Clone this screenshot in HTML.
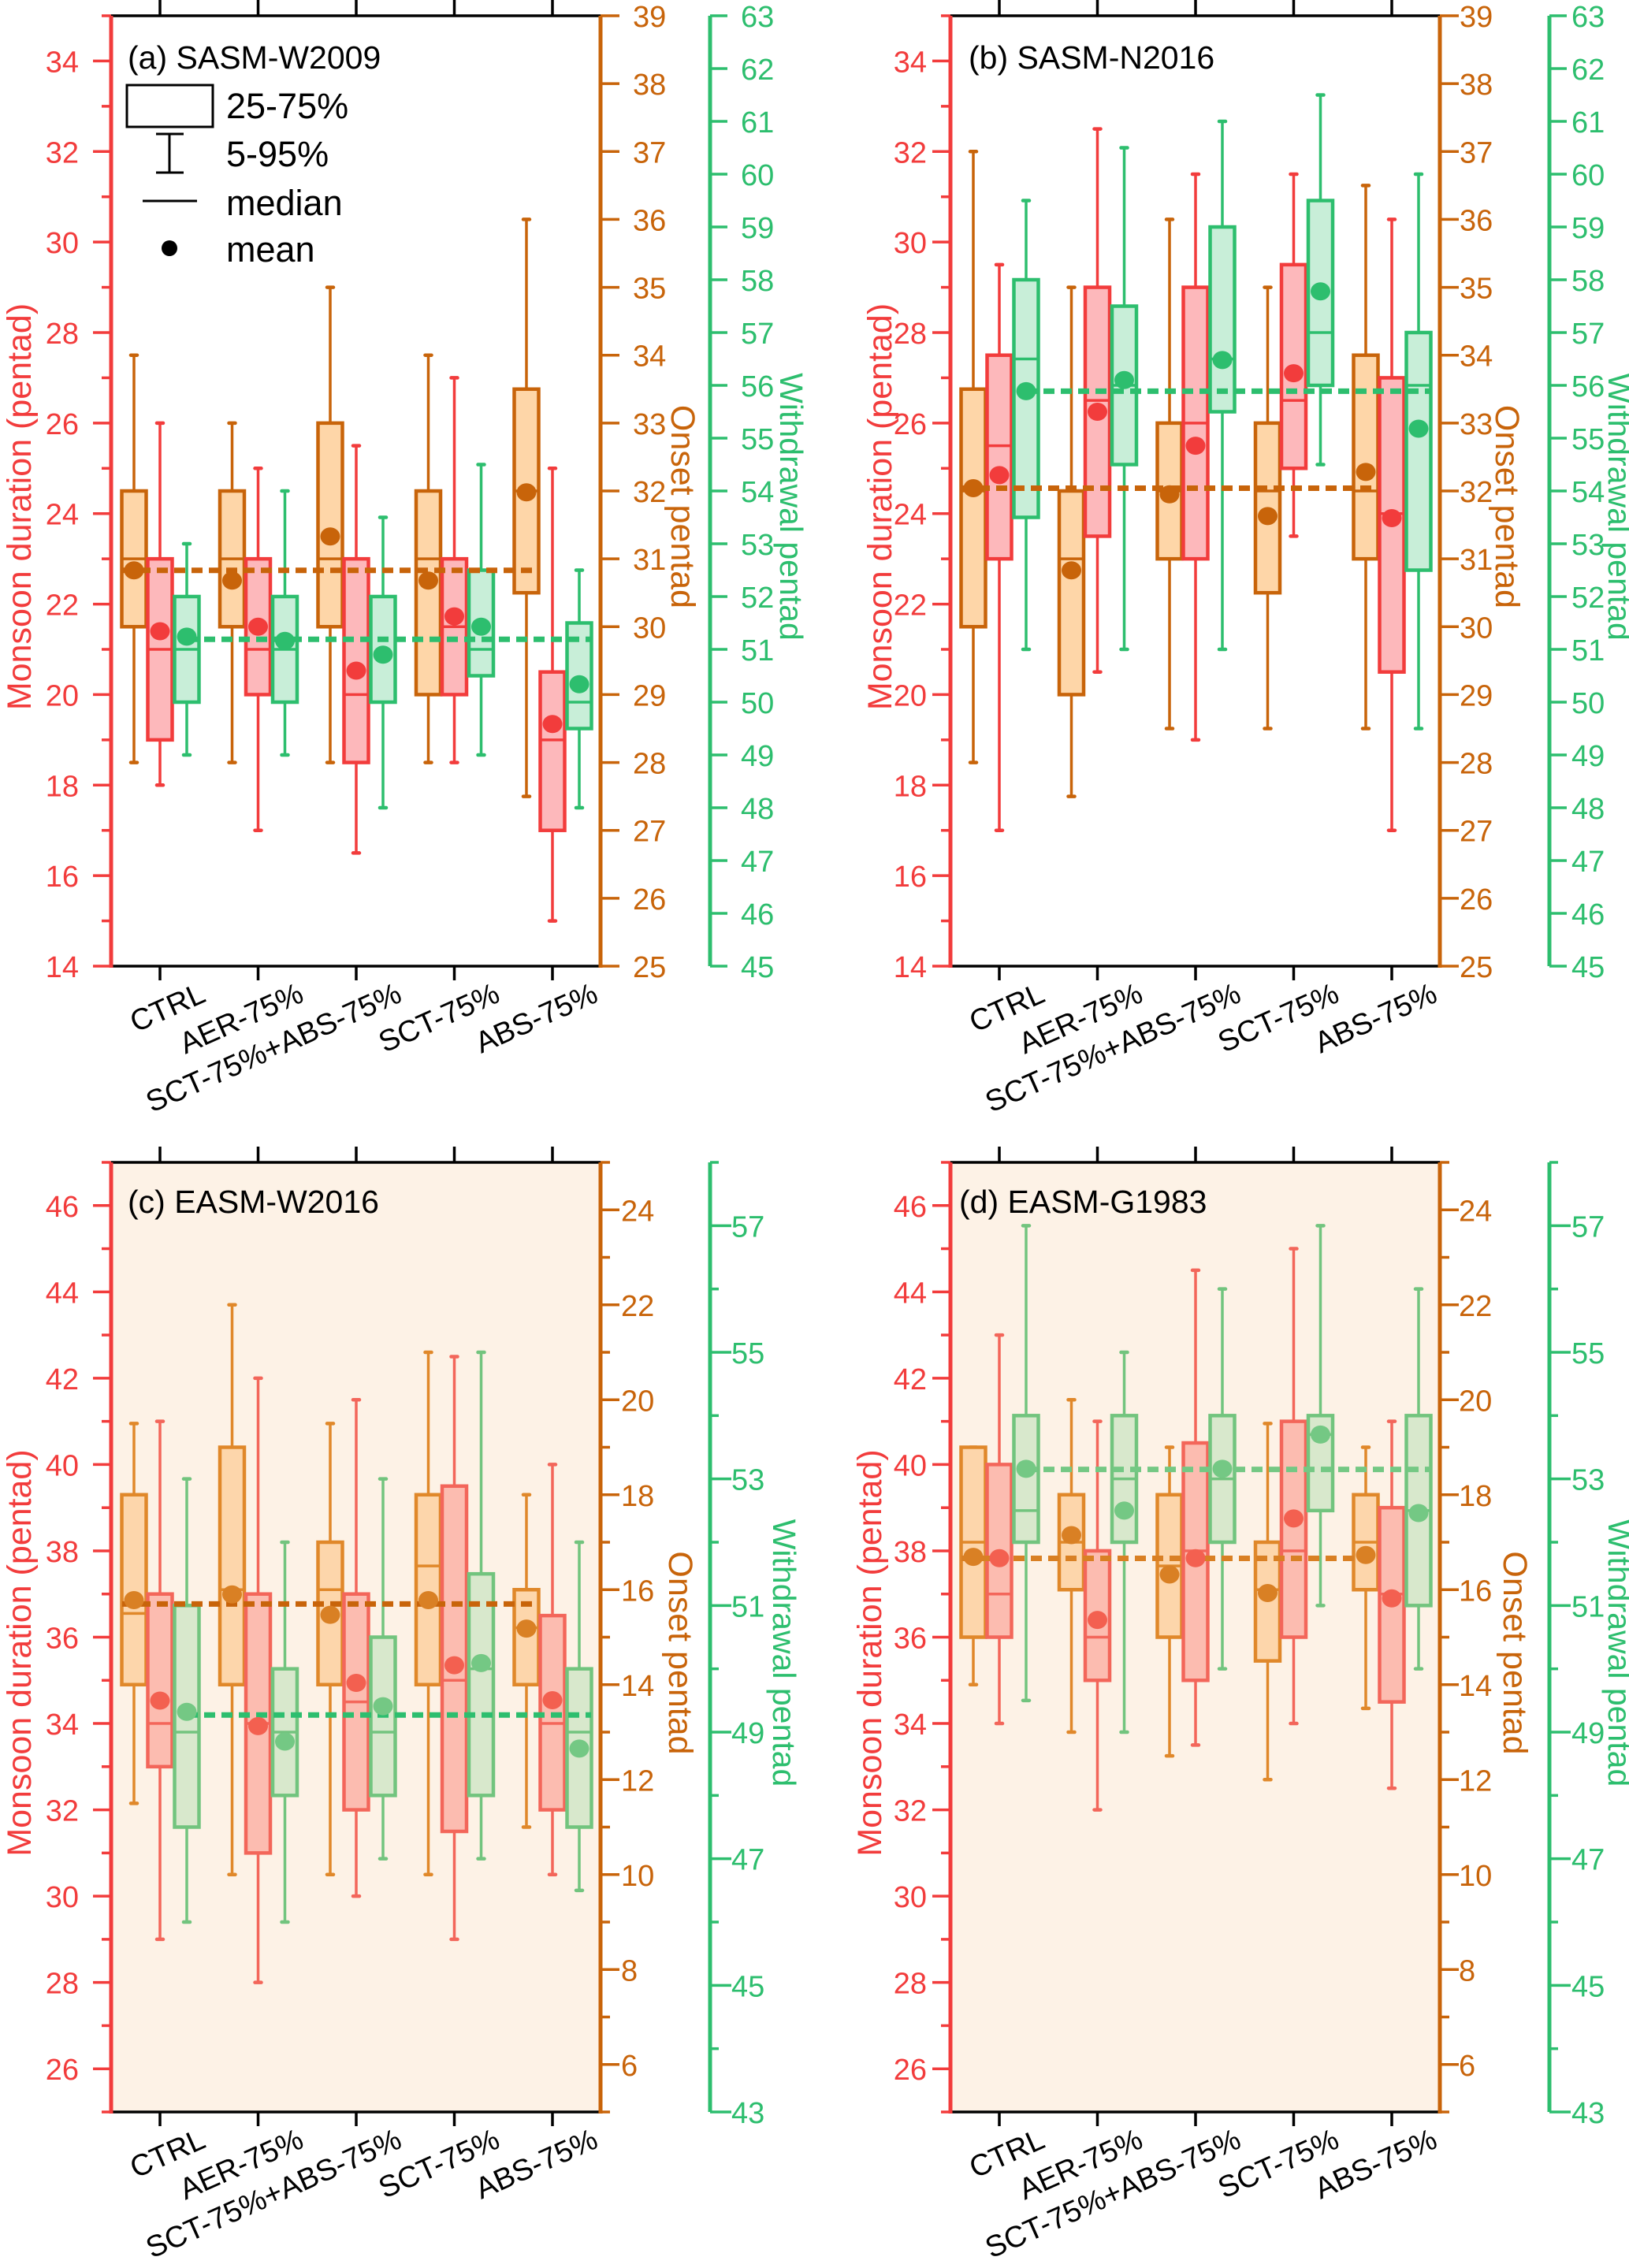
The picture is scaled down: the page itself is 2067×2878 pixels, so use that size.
<!DOCTYPE html>
<html><head><meta charset="utf-8"><title>Monsoon box plots</title>
<style>
html,body{margin:0;padding:0;background:#fff;}
svg{display:block;font-family:"Liberation Sans",Arial,sans-serif;}
</style></head>
<body>
<svg id="chart" width="2067" height="2878" viewBox="0 0 2067 2878" xmlns="http://www.w3.org/2000/svg"></svg>
<script>
// Categories
const categories = ["CTRL","AER-75%","SCT-75%+ABS-75%","SCT-75%","ABS-75%"];
// stats per category: [p5, q1, median, q3, p95, mean]
// Panel (a) SASM-W2009
const a_onset = [[28,30,31,32,34,30.83],[28,30,31,32,33,30.68],[28,30,31,33,35,31.33],[28,29,31,32,34,30.68],[27.5,30.5,32,33.5,36,31.98]];
const a_duration = [[18,19,21,23,26,21.4],[17,20,21,23,25,21.5],[16.5,18.5,20,23,25.5,20.53],[18.5,20,21.5,23,27,21.73],[15,17,19,20.5,25,19.35]];
const a_withdrawal = [[49,50,51,52,53,51.24],[49,50,51,52,54,51.16],[48,50,50,52,53.5,50.9],[49,50.5,51,52.5,54.5,51.43],[48,49.5,50,51.5,52.5,50.34]];
const a_refs = [30.83, 51.19];
// Panel (b) SASM-N2016
const b_onset = [[28,30,32,33.5,37,32.04],[27.5,29,31,32,35,30.83],[28.5,31,32,33,36,31.95],[28.5,30.5,32,33,35,31.63],[28.5,31,32,34,36.5,32.28]];
const b_duration = [[17,23,25.5,27.5,29.5,24.85],[20.5,23.5,26.5,29,32.5,26.25],[19,23,26,29,31.5,25.5],[23.5,25,26.5,29.5,31.5,27.1],[17,20.5,24,27,30.5,23.9]];
const b_withdrawal = [[51,53.5,56.5,58,59.5,55.89],[51,54.5,56,57.5,60.5,56.1],[51,55.5,56.5,59,61,56.48],[54.5,56,57,59.5,61.5,57.78],[49.5,52.5,56,57,60,55.18]];
const b_refs = [32.04, 55.89];
// Panel (c) EASM-W2016
const c_onset = [[11.5,14,15.5,18,19.5,15.78],[10,14,16,19,22,15.9],[10,14,16,17,19.5,15.47],[10,14,16.5,18,21,15.78],[11,14,15.2,16,18,15.18]];
const c_duration = [[29,33,34,37,41,34.53],[28,31,34,37,42,33.94],[30,32,34.5,37,41.5,34.94],[29,31.5,35,39.5,42.5,35.35],[30.5,32,34,36.5,40,34.54]];
const c_withdrawal = [[46,47.5,49,51,53,49.32],[46,48,49,50,52,48.85],[47,48,49,50.5,53,49.41],[47,48,50,51.5,55,50.09],[46.5,47.5,49,50,52,48.74]];
const c_refs = [15.7, 49.27];
// Panel (d) EASM-G1983
const d_onset = [[14,15,17,19,19,16.69],[13,16,17,18,20,17.15],[12.5,15,16.5,18,19,16.32],[12,14.5,16,17,19.5,15.93],[13.5,16,17,18,19,16.73]];
const d_duration = [[34,36,37,40,43,37.83],[32,35,36,38,41,36.4],[33.5,35,38,40.5,44.5,37.83],[34,36,38,41,45,38.75],[32.5,34.5,37,39,41,36.9]];
const d_withdrawal = [[49.5,52,52.5,54,57,53.16],[49,52,53,54,55,52.5],[50,52,53,54,56,53.16],[51,52.5,53.7,54,57,53.7],[50,51,52.5,54,56,52.46]];
const d_refs = [16.66, 53.15];

const NS = "http://www.w3.org/2000/svg";
const svg = document.getElementById("chart");
function el(tag, attrs, parent){
  const e = document.createElementNS(NS, tag);
  for (const k in attrs) e.setAttribute(k, attrs[k]);
  (parent||svg).appendChild(e);
  return e;
}
const RED="#f23c3c", ORG="#c8640a", GRN="#2dbe6e";

const panels = [
 {id:"a", title:"(a) SASM-W2009", L:141, T:20, B:1226, bg:"#ffffff",
  red:[14,35], org:[25,39], grn:[45,63], redStep:2, orgStep:1, grnStep:1,
  onset:a_onset, dur:a_duration, wd:a_withdrawal, refs:a_refs,
  redLab:-41, orgLab:41, grnLab:39, redT:25, orgT:866, grnT:1004, legend:true,
  titleX:162, titleY:87,
  col:{os:ORG,of:"#fed6a8",rs:RED,rf:"#fdb8bb",gs:GRN,gf:"#c8eed8",om:ORG,rm:RED,gm:GRN,ol:ORG,gl:GRN}},
 {id:"b", title:"(b) SASM-N2016", L:1206, T:20, B:1226, bg:"#ffffff",
  red:[14,35], org:[25,39], grn:[45,63], redStep:2, orgStep:1, grnStep:1,
  onset:b_onset, dur:b_duration, wd:b_withdrawal, refs:b_refs,
  redLab:-30, orgLab:25, grnLab:28, redT:1117, orgT:1912, grnT:2055, legend:false,
  titleX:1229, titleY:87,
  col:{os:ORG,of:"#fed6a8",rs:RED,rf:"#fdb8bb",gs:GRN,gf:"#c8eed8",om:ORG,rm:RED,gm:GRN,ol:ORG,gl:GRN}},
 {id:"c", title:"(c) EASM-W2016", L:141, T:1475, B:2680, bg:"#fdf2e6",
  red:[25,47], org:[5,25], grn:[43,58], redStep:2, orgStep:2, grnStep:2,
  onset:c_onset, dur:c_duration, wd:c_withdrawal, refs:c_refs,
  redLab:-41, orgLab:26, grnLab:27, redT:25, orgT:863, grnT:995, legend:false,
  titleX:162, titleY:1539,
  col:{os:"#e0882a",of:"#fdd6ab",rs:"#f3665a",rf:"#fcbcb0",gs:"#72c47e",gf:"#d8e8cc",om:"#d98024",rm:"#f36050",gm:"#74c884",ol:ORG,gl:GRN}},
 {id:"d", title:"(d) EASM-G1983", L:1206, T:1475, B:2680, bg:"#fdf2e6",
  red:[25,47], org:[5,25], grn:[43,58], redStep:2, orgStep:2, grnStep:2,
  onset:d_onset, dur:d_duration, wd:d_withdrawal, refs:d_refs,
  redLab:-30, orgLab:24, grnLab:28, redT:1104, orgT:1922, grnT:2055, legend:false,
  titleX:1217, titleY:1539,
  col:{os:"#e0882a",of:"#fdd6ab",rs:"#f3665a",rf:"#fcbcb0",gs:"#72c47e",gf:"#d8e8cc",om:"#d98024",rm:"#f36050",gm:"#74c884",ol:"#d98024",gl:"#74c884"}}
];

function scale(range, T, B){ return v => B - (v - range[0]) / (range[1] - range[0]) * (B - T); }

panels.forEach(p => {
  const W = 621, R = p.L + W, G = R + 139;
  const g = el("g", {});
  
  
  const yR = scale(p.red, p.T, p.B), yO = scale(p.org, p.T, p.B), yG = scale(p.grn, p.T, p.B);
  const xC = i => p.L + 62 + i * 124.5;

  const bg = el("rect", {x:p.L, y:p.T, width:W, height:p.B-p.T, fill:p.bg}, g);
  
  

  categories.forEach((c, i) => {
    const x = xC(i);
    const t1 = el("line", {x1:x, x2:x, y1:p.T-20, y2:p.T, stroke:"#000", "stroke-width":3.5}, g);
    
    
    const t2 = el("line", {x1:x, x2:x, y1:p.B, y2:p.B+18, stroke:"#000", "stroke-width":3.5}, g);
    
    
    const tx = el("text", {x:x+60, y:p.B+44, "font-size":38, "text-anchor":"end", fill:"#000",
      transform:`rotate(-24 ${x+60} ${p.B+44})`}, g);
    tx.textContent = c;
    
    
  });

  const series = [
    {d:p.onset, y:yO, off:-33, s:p.col.os, f:p.col.of, m:p.col.om, n:"onset"},
    {d:p.dur, y:yR, off:0, s:p.col.rs, f:p.col.rf, m:p.col.rm, n:"duration"},
    {d:p.wd, y:yG, off:34, s:p.col.gs, f:p.col.gf, m:p.col.gm, n:"withdrawal"}
  ];
  series.forEach(s => {
    s.d.forEach((st, i) => {
      const cx = xC(i) + s.off, w = 31;
      const wl = el("line", {x1:cx, x2:cx, y1:s.y(st[4]), y2:s.y(st[0]), stroke:s.s, "stroke-width":3.5}, g);
      
      
      [st[0], st[4]].forEach(v => {
        const cp = el("line", {x1:cx-4, x2:cx+4, y1:s.y(v), y2:s.y(v), stroke:s.s, "stroke-width":4.5, "stroke-linecap":"round"}, g);
        
        
      });
      const bx = el("rect", {x:cx-w/2, y:s.y(st[3]), width:w, height:s.y(st[1])-s.y(st[3]), fill:s.f, stroke:s.s, "stroke-width":4.5}, g);
      
      
      const md = el("line", {x1:cx-w/2, x2:cx+w/2, y1:s.y(st[2]), y2:s.y(st[2]), stroke:s.s, "stroke-width":3.5}, g);
      
      
    });
  });
  const x0 = xC(0) - 33 - 15, x1 = xC(4) - 33 + 15;
  const ro = el("line", {x1:x0, x2:x1, y1:yO(p.refs[0]), y2:yO(p.refs[0]), stroke:p.col.ol, "stroke-width":7, "stroke-dasharray":"14 8"}, g);
  
  
  const gx0 = xC(0) + 34, gx1 = xC(4) + 34 + 15;
  const rg = el("line", {x1:gx0, x2:gx1, y1:yG(p.refs[1]), y2:yG(p.refs[1]), stroke:p.col.gl, "stroke-width":7, "stroke-dasharray":"14 8"}, g);
  
  
  series.forEach(s => {
    s.d.forEach((st, i) => {
      const cx = xC(i) + s.off;
      const dt = el("ellipse", {cx:cx, cy:s.y(st[5]), rx:12.5, ry:11.5, fill:s.m}, g);
      
      
    });
  });

  const top = el("line", {x1:p.L, x2:R, y1:p.T, y2:p.T, stroke:"#000", "stroke-width":3.5}, g);
  
  
  const bot = el("line", {x1:p.L, x2:R, y1:p.B, y2:p.B, stroke:"#000", "stroke-width":3.5}, g);
  
  
  const la = el("line", {x1:p.L, x2:p.L, y1:p.T, y2:p.B+2, stroke:RED, "stroke-width":5}, g);
  
  
  const ra = el("line", {x1:R, x2:R, y1:p.T, y2:p.B+2, stroke:ORG, "stroke-width":5}, g);
  
  
  const ga = el("line", {x1:G, x2:G, y1:p.T, y2:p.B, stroke:GRN, "stroke-width":5}, g);
  
  

  for (let v = p.red[0]; v <= p.red[1]; v++) {
    const isMaj = v % 2 === 0;
    const y = yR(v);
    const tk = el("line", {x1:p.L-(isMaj?23:12), x2:p.L, y1:y, y2:y, stroke:RED, "stroke-width":3.5}, g);
    
    
    if (isMaj) {
      const t = el("text", {x:p.L+p.redLab, y:y+14, "font-size":38, "text-anchor":"end", fill:RED}, g);
      t.textContent = v;
      
      
    }
  }
  for (let v = p.org[0]; v <= p.org[1]; v++) {
    const isMaj = p.orgStep === 1 ? true : (v % 2 === 0);
    const y = yO(v);
    const tk = el("line", {x1:R, x2:R+(isMaj?24:12), y1:y, y2:y, stroke:ORG, "stroke-width":3.5}, g);
    
    
    if (isMaj) {
      const t = el("text", {x:R+p.orgLab, y:y+14, "font-size":38, fill:ORG}, g);
      t.textContent = v;
      
      
    }
  }
  for (let v = p.grn[0]; v <= p.grn[1]; v++) {
    const isMaj = p.grnStep === 1 ? true : (v % 2 !== 0);
    const y = yG(v);
    const tk = el("line", {x1:G, x2:G+(isMaj?(p.grnStep===1?22:27):11), y1:y, y2:y, stroke:GRN, "stroke-width":3.5}, g);
    
    
    if (isMaj) {
      const t = el("text", {x:G+p.grnLab, y:y+14, "font-size":38, fill:GRN}, g);
      t.textContent = v;
      
      
    }
  }
  const cy = (p.T + p.B) / 2 + 20;
  const t1 = el("text", {x:p.redT, y:cy, "font-size":43, fill:RED, "text-anchor":"middle", "dominant-baseline":"central", transform:`rotate(-90 ${p.redT} ${cy})`}, g);
  t1.textContent = "Monsoon duration (pentad)";
  
  
  const t2 = el("text", {x:p.orgT, y:cy, "font-size":43, fill:ORG, "text-anchor":"middle", "dominant-baseline":"central", transform:`rotate(90 ${p.orgT} ${cy})`}, g);
  t2.textContent = "Onset pentad";
  
  
  const t3 = el("text", {x:p.grnT, y:cy, "font-size":41, fill:GRN, "text-anchor":"middle", "dominant-baseline":"central", transform:`rotate(90 ${p.grnT} ${cy})`}, g);
  t3.textContent = "Withdrawal pentad";
  
  

  const pt = el("text", {x:p.titleX, y:p.titleY, "font-size":41, fill:"#000"}, g);
  pt.textContent = p.title;
  
  

  if (p.legend) {
    const lg = el("g", {}, g);
    
    
    const lb = el("rect", {x:161, y:108, width:109, height:53, fill:"none", stroke:"#000", "stroke-width":3}, lg);
    
    
    const lt1 = el("text", {x:287, y:150, "font-size":45}, lg); lt1.textContent = "25-75%";
    
    
    const lw = el("path", {d:"M198 170H233M215 170V219M198 219H233", fill:"none", stroke:"#000", "stroke-width":3}, lg);
    
    
    const lt2 = el("text", {x:287, y:211, "font-size":45}, lg); lt2.textContent = "5-95%";
    
    
    const lm = el("line", {x1:181, x2:250, y1:255, y2:255, stroke:"#000", "stroke-width":3}, lg);
    
    
    const lt3 = el("text", {x:287, y:273, "font-size":45}, lg); lt3.textContent = "median";
    
    
    const ld = el("ellipse", {cx:215, cy:315, rx:10, ry:10, fill:"#000"}, lg);
    
    
    const lt4 = el("text", {x:287, y:332, "font-size":45}, lg); lt4.textContent = "mean";
    
    
  }
});
</script>
</body></html>
